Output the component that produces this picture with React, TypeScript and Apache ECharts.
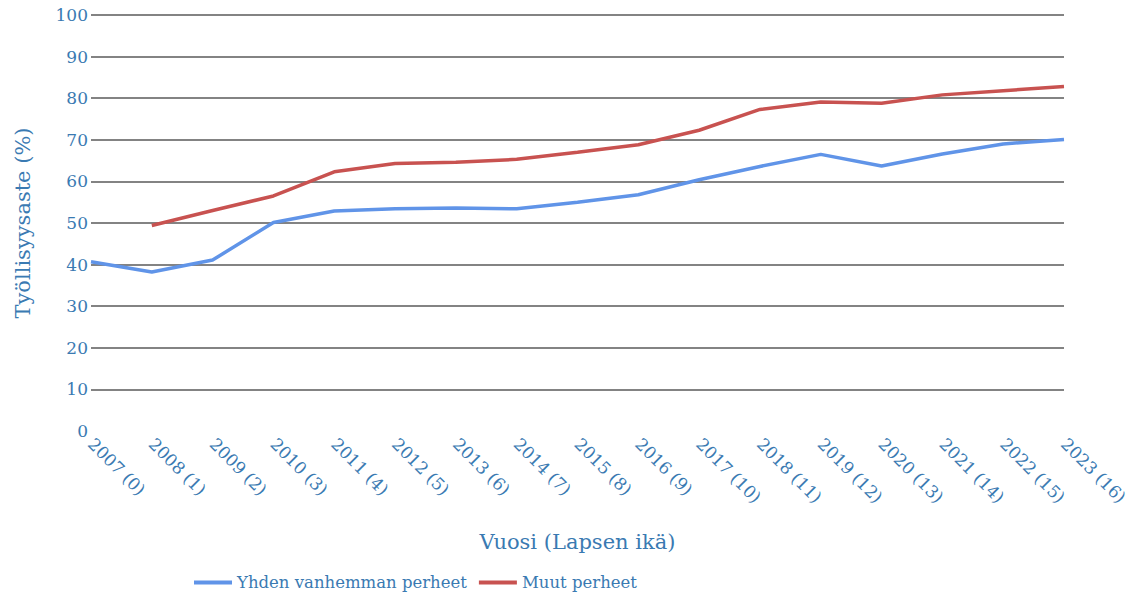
import React, { useEffect, useRef } from "react";
import * as echarts from "echarts";

const categories = [
  "2007 (0)", "2008 (1)", "2009 (2)", "2010 (3)", "2011 (4)", "2012 (5)", "2013 (6)", "2014 (7)",
  "2015 (8)", "2016 (9)", "2017 (10)", "2018 (11)", "2019 (12)", "2020 (13)", "2021 (14)", "2022 (15)", "2023 (16)",
];
const yksinhuoltajat = [40.7, 38.2, 41.1, 50.1, 52.9, 53.4, 53.6, 53.4, 55.0, 56.8, 60.4, 63.6, 66.5, 63.7, 66.6, 69.0, 70.1];
const muut = [null, 49.4, 53.0, 56.5, 62.3, 64.3, 64.6, 65.3, 67.0, 68.8, 72.3, 77.3, 79.1, 78.8, 80.8, 81.8, 82.8];
const seriesNames = ["Yhden vanhemman perheet", "Muut perheet"];
const yTitle = "Työllisyysaste (%)";
const xTitle = "Vuosi (Lapsen ikä)";

const textColor = "#3a7ab2";
const font = "DejaVu Serif";

export default function App() {
  const ref = useRef<HTMLDivElement>(null);
  useEffect(() => {
    document.body.style.margin = "0";
    const chart = echarts.init(ref.current!, null, { renderer: "svg" });
    const gridColors = ["rgba(0,0,0,0)"];
    for (let i = 0; i < 10; i++) gridColors.push("#5a5a5a");
    chart.setOption({
      animation: false,
      textStyle: { fontFamily: font },
      grid: { left: 91, right: 68, top: 15, bottom: 162, containLabel: false },
      legend: {
        left: 189,
        top: 569,
        icon: "rect",
        itemWidth: 38,
        itemHeight: 4,
        itemGap: 12,
        textStyle: { color: textColor, fontSize: 16.5, fontFamily: font },
        data: seriesNames,
      },
      xAxis: {
        type: "category",
        data: categories,
        boundaryGap: false,
        axisLine: { show: false },
        axisTick: { show: false },
        axisLabel: { rotate: -45, color: textColor, fontSize: 17, fontFamily: font, margin: 10, interval: 0 },
        name: xTitle,
        nameLocation: "middle",
        nameGap: 100,
        nameTextStyle: { color: textColor, fontSize: 21, fontFamily: font },
      },
      yAxis: {
        type: "value",
        min: 0,
        max: 100,
        interval: 10,
        axisLine: { show: false },
        axisTick: { show: false },
        axisLabel: { color: textColor, fontSize: 17, fontFamily: font, margin: 3 },
        splitLine: { lineStyle: { color: gridColors, width: 1.5 } },
        name: yTitle,
        nameLocation: "middle",
        nameGap: 58,
        nameTextStyle: { color: textColor, fontSize: 21, fontFamily: font },
      },
      series: [
        {
          name: seriesNames[0],
          type: "line",
          data: yksinhuoltajat,
          showSymbol: false,
          symbol: "none",
          lineStyle: { color: "#6094e8", width: 3.5 },
          itemStyle: { color: "#6094e8" },
        },
        {
          name: seriesNames[1],
          type: "line",
          data: muut,
          showSymbol: false,
          symbol: "none",
          lineStyle: { color: "#c85250", width: 3.5 },
          itemStyle: { color: "#c85250" },
        },
      ],
    });
    return () => chart.dispose();
  }, []);
  return <div ref={ref} style={{ width: 1132, height: 593 }} />;
}
